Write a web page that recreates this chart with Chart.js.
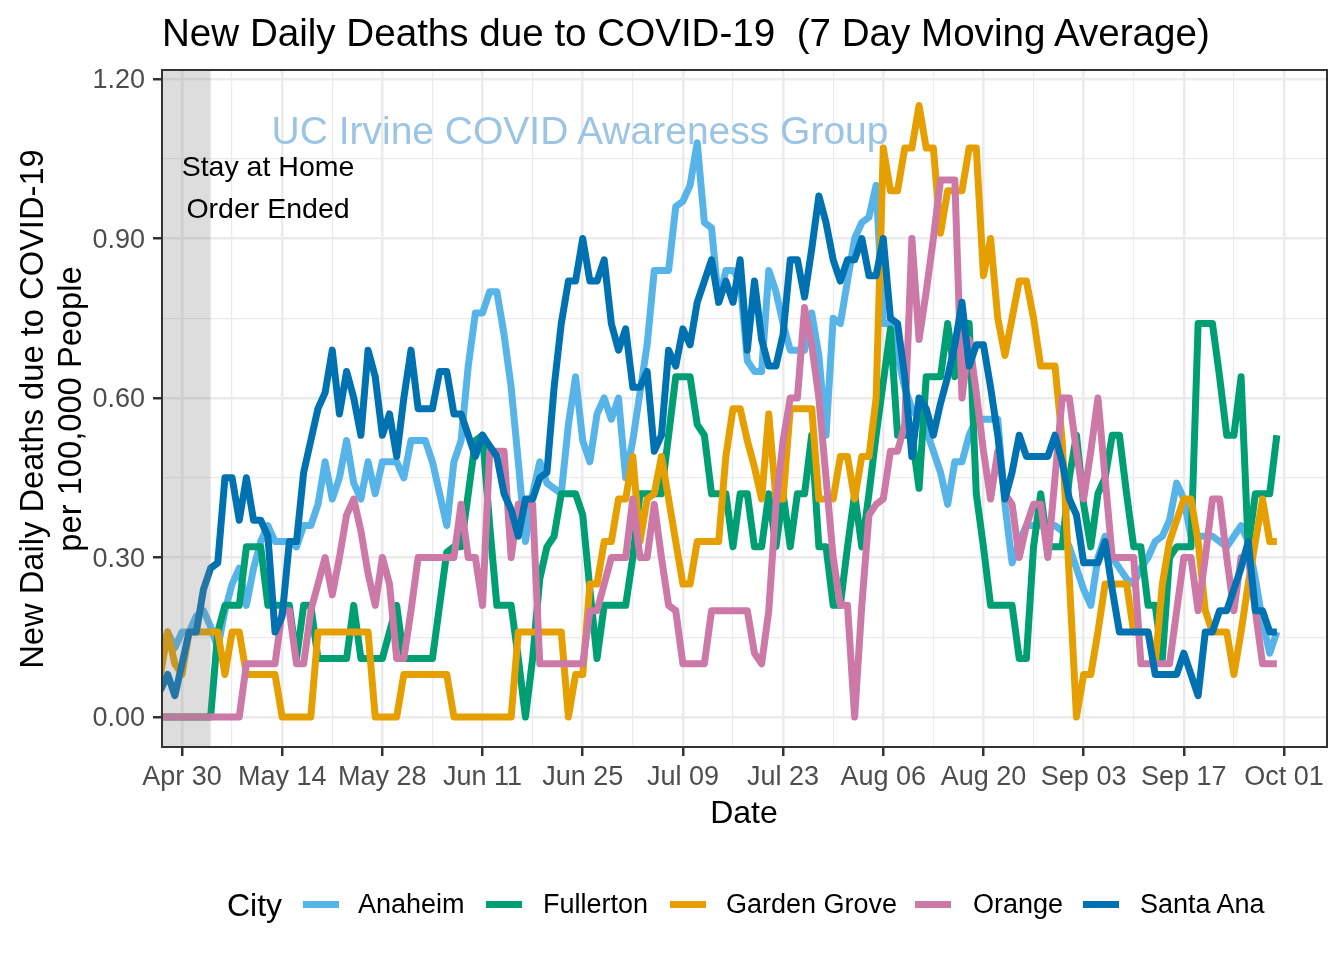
<!DOCTYPE html>
<html>
<head>
<meta charset="utf-8">
<title>New Daily Deaths due to COVID-19</title>
<script src="https://cdn.jsdelivr.net/npm/chart.js@4.4.1/dist/chart.umd.min.js"></script>
<style>
  html, body { margin: 0; padding: 0; background: #fff; }
  #page { position: relative; width: 1344px; height: 960px; overflow: hidden;
          font-family: "Liberation Sans", Arial, sans-serif; }
  #chart { position: absolute; left: 0; top: 0; }
  .txt { position: absolute; white-space: pre; line-height: 1; color: #000; }
  .mid { transform: translateX(-50%); }
  .rot { transform: translate(-50%, -50%) rotate(-90deg); }
  .key { position: absolute; width: 36px; height: 7px; top: 901px; }
</style>
</head>
<body>
<div id="page">
  <canvas id="chart" width="1344" height="960"></canvas>

  <div class="txt" style="left:162px; top:14px; font-size:38.6px;">New Daily Deaths due to COVID-19  (7 Day Moving Average)</div>

  <div class="txt rot" style="left:32px; top:409px; font-size:32.7px;">New Daily Deaths due to COVID-19</div>
  <div class="txt rot" style="left:69.5px; top:409px; font-size:32.7px;">per 100,000 People</div>
  <div class="txt mid" style="left:744px; top:796px; font-size:32px;">Date</div>

  <div class="txt mid" style="left:580px; top:111px; font-size:39px; color:#9cc4e4;">UC Irvine COVID Awareness Group</div>
  <div class="txt mid" style="left:268px; top:152px; font-size:28.5px;">Stay at Home</div>
  <div class="txt mid" style="left:268px; top:194px; font-size:28.5px;">Order Ended</div>

  <div id="legend"></div>
</div>

<script>
/* ---------- data (x = days after Apr 30, first value is Apr 27) ---------- */
const firstDay = -3;

const cityNames  = ['Anaheim', 'Fullerton', 'Garden Grove', 'Orange', 'Santa Ana'];
const cityColors = ['#56B4E9', '#009E73', '#E69F00', '#CC79A7', '#0072B2'];

const anaheim = [
  0.12,0.16,0.13,0.16,0.16,0.19,0.20,0.17,0.13,0.20,
  0.25,0.28,0.21,0.28,0.33,0.36,0.33,0.33,0.33,0.32,
  0.36,0.36,0.40,0.48,0.41,0.45,0.52,0.44,0.41,0.48,
  0.42,0.48,0.48,0.48,0.45,0.52,0.52,0.52,0.48,0.42,
  0.36,0.48,0.52,0.66,0.76,0.76,0.80,0.80,0.72,0.62,
  0.48,0.33,0.42,0.48,0.44,0.43,0.42,0.55,0.64,0.52,
  0.48,0.57,0.60,0.56,0.60,0.45,0.52,0.61,0.70,0.84,
  0.84,0.84,0.96,0.97,1.00,1.08,0.93,0.92,0.78,0.84,
  0.84,0.82,0.67,0.65,0.65,0.84,0.80,0.74,0.69,0.69,
  0.69,0.76,0.68,0.53,0.75,0.74,0.82,0.90,0.93,0.94,
  1.00,0.74,0.74,0.68,0.62,0.58,0.56,0.54,0.50,0.46,
  0.40,0.48,0.48,0.53,0.56,0.56,0.56,0.56,0.40,0.29,
  0.33,0.36,0.36,0.36,0.36,0.36,0.35,0.32,0.28,0.24,
  0.21,0.30,0.34,0.30,0.28,0.26,0.25,0.28,0.30,0.33,
  0.34,0.37,0.44,0.41,0.34,0.34,0.34,0.34,0.33,0.32,
  0.34,0.36,0.33,0.26,0.18,0.12,0.16
];

const fullerton = [
  0,0,0,0,0,0,0,0,0.16,0.21,
  0.21,0.21,0.32,0.32,0.32,0.21,0.21,0.21,0.21,0.11,
  0.21,0.21,0.11,0.11,0.11,0.11,0.11,0.21,0.11,0.11,
  0.11,0.11,0.16,0.21,0.11,0.11,0.11,0.11,0.11,0.21,
  0.31,0.32,0.32,0.42,0.52,0.53,0.36,0.21,0.21,0.21,
  0.11,0.00,0.11,0.26,0.32,0.34,0.42,0.42,0.42,0.38,
  0.24,0.11,0.21,0.21,0.21,0.21,0.30,0.42,0.42,0.42,
  0.42,0.53,0.64,0.64,0.64,0.55,0.53,0.42,0.42,0.42,
  0.32,0.42,0.42,0.32,0.32,0.42,0.32,0.42,0.32,0.42,
  0.42,0.53,0.32,0.32,0.21,0.21,0.32,0.42,0.32,0.42,
  0.53,0.63,0.73,0.53,0.53,0.53,0.43,0.64,0.64,0.64,
  0.74,0.64,0.74,0.74,0.42,0.32,0.21,0.21,0.21,0.21,
  0.11,0.11,0.32,0.42,0.32,0.32,0.32,0.45,0.53,0.40,
  0.32,0.42,0.45,0.53,0.53,0.42,0.32,0.32,0.21,0.21,
  0.11,0.30,0.32,0.32,0.32,0.74,0.74,0.74,0.64,0.53,
  0.53,0.64,0.32,0.42,0.42,0.42,0.53
];

const gardenGrove = [
  0.08,0.16,0.10,0.08,0.16,0.16,0.16,0.16,0.16,0.08,
  0.16,0.16,0.08,0.08,0.08,0.08,0.08,0,0,0,
  0,0,0.16,0.16,0.16,0.16,0.16,0.16,0.16,0.16,
  0,0,0,0,0.08,0.08,0.08,0.08,0.08,0.08,
  0.08,0,0,0,0,0,0,0,0,0,
  0.16,0.16,0.16,0.16,0.16,0.16,0.16,0,0.08,0.08,
  0.25,0.25,0.33,0.33,0.41,0.41,0.49,0.33,0.41,0.42,
  0.49,0.41,0.33,0.25,0.25,0.33,0.33,0.33,0.33,0.49,
  0.58,0.58,0.52,0.47,0.41,0.57,0.41,0.41,0.58,0.58,
  0.58,0.58,0.41,0.41,0.41,0.49,0.49,0.41,0.49,0.49,
  0.60,1.07,0.99,0.99,1.07,1.07,1.15,1.07,1.07,0.91,
  0.99,0.99,0.99,1.07,1.07,0.83,0.90,0.75,0.68,0.75,
  0.82,0.82,0.75,0.66,0.66,0.66,0.52,0.26,0,0.08,
  0.08,0.16,0.25,0.25,0.25,0.25,0.16,0.16,0.16,0.10,
  0.25,0.33,0.37,0.41,0.41,0.33,0.20,0.16,0.16,0.16,
  0.08,0.16,0.25,0.33,0.41,0.33,0.33
];

const orange = [
  0,0,0,0,0,0,0,0,0,0,
  0,0,0.10,0.10,0.10,0.10,0.10,0.20,0.20,0.10,
  0.10,0.20,0.25,0.30,0.23,0.30,0.38,0.41,0.35,0.27,
  0.21,0.30,0.25,0.11,0.11,0.20,0.30,0.30,0.30,0.30,
  0.30,0.30,0.40,0.30,0.30,0.21,0.50,0.50,0.50,0.30,
  0.40,0.40,0.40,0.10,0.10,0.10,0.10,0.10,0.10,0.10,
  0.20,0.20,0.25,0.30,0.30,0.30,0.41,0.30,0.30,0.40,
  0.30,0.21,0.20,0.10,0.10,0.10,0.10,0.20,0.20,0.20,
  0.20,0.20,0.20,0.12,0.10,0.20,0.40,0.52,0.60,0.60,
  0.77,0.70,0.60,0.45,0.30,0.21,0.21,0.00,0.21,0.38,
  0.40,0.41,0.50,0.50,0.55,0.90,0.71,0.80,0.90,1.01,
  1.01,1.01,0.60,0.71,0.61,0.50,0.41,0.50,0.42,0.40,
  0.30,0.36,0.40,0.40,0.30,0.45,0.60,0.60,0.50,0.41,
  0.50,0.60,0.45,0.30,0.30,0.30,0.30,0.10,0.10,0.10,
  0.10,0.10,0.20,0.30,0.30,0.20,0.30,0.41,0.41,0.30,
  0.20,0.30,0.30,0.20,0.10,0.10,0.10
];

const santaAna = [
  0.05,0.08,0.04,0.10,0.16,0.16,0.24,0.28,0.29,0.45,
  0.45,0.37,0.45,0.37,0.37,0.34,0.16,0.19,0.33,0.33,
  0.46,0.52,0.58,0.61,0.69,0.57,0.65,0.60,0.53,0.69,
  0.64,0.53,0.57,0.49,0.60,0.69,0.58,0.58,0.58,0.65,
  0.65,0.57,0.57,0.53,0.49,0.53,0.51,0.49,0.42,0.39,
  0.34,0.41,0.41,0.45,0.46,0.62,0.74,0.82,0.82,0.90,
  0.82,0.82,0.86,0.74,0.69,0.73,0.62,0.62,0.65,0.50,
  0.53,0.69,0.66,0.73,0.70,0.78,0.82,0.86,0.78,0.82,
  0.78,0.86,0.69,0.82,0.71,0.66,0.66,0.72,0.86,0.86,
  0.79,0.88,0.98,0.93,0.86,0.82,0.86,0.86,0.90,0.83,
  0.83,0.90,0.75,0.74,0.64,0.49,0.60,0.58,0.53,0.59,
  0.64,0.70,0.78,0.66,0.70,0.70,0.62,0.53,0.41,0.46,
  0.53,0.49,0.49,0.49,0.49,0.53,0.48,0.41,0.38,0.29,
  0.29,0.29,0.33,0.24,0.16,0.16,0.16,0.16,0.16,0.08,
  0.08,0.08,0.08,0.12,0.08,0.04,0.16,0.16,0.20,0.20,
  0.24,0.28,0.33,0.20,0.20,0.16,0.16
];

const cityValues = [anaheim, fullerton, gardenGrove, orange, santaAna];

const xTickDays   = [0, 14, 28, 42, 56, 70, 84, 98, 112, 126, 140, 154];
const xTickLabels = ['Apr 30', 'May 14', 'May 28', 'Jun 11', 'Jun 25', 'Jul 09',
                     'Jul 23', 'Aug 06', 'Aug 20', 'Sep 03', 'Sep 17', 'Oct 01'];
const xMinorDays  = [7, 21, 35, 49, 63, 77, 91, 105, 119, 133, 147];
const yTickValues = [0, 0.3, 0.6, 0.9, 1.2];
const yMinorValues = [0.15, 0.45, 0.75, 1.05];

const stayHomeStart = -3;   // Apr 27
const stayHomeEnd   = 4;    // May 4

/* ---------- axis limits (ggplot expansion) ---------- */
const xMin = -2.795, xMax = 160.01;
const yMin = -0.0564, yMax = 1.2169;

const near = (list, v) => list.some(t => Math.abs(t - v) < 1e-6);

/* ---------- legend (html) ---------- */
const legendPos = [
  { key: 303, text: 358 },
  { key: 486, text: 543 },
  { key: 670, text: 726 },
  { key: 915, text: 973 },
  { key: 1083, text: 1140 }
];
(function buildLegend() {
  const box = document.getElementById('legend');
  let html = '<div class="txt" style="left:227px; top:889px; font-size:32px;">City</div>';
  cityNames.forEach((name, i) => {
    html += `<div class="key" style="left:${legendPos[i].key}px; background:${cityColors[i]};"></div>`;
    html += `<div class="txt" style="left:${legendPos[i].text}px; top:891px; font-size:27px;">${name}</div>`;
  });
  box.innerHTML = html;
})();

/* ---------- chart ---------- */
Chart.defaults.font.family = '"Liberation Sans", Arial, sans-serif';

const panelPlugin = {
  id: 'panel',
  afterDatasetsDraw(chart) {
    const { ctx, chartArea: a, scales: { x } } = chart;
    const x0 = Math.max(x.getPixelForValue(stayHomeStart), a.left);
    const x1 = Math.min(x.getPixelForValue(stayHomeEnd), a.right);
    ctx.save();
    ctx.fillStyle = 'rgba(128,128,128,0.27)';
    ctx.fillRect(x0, a.top, x1 - x0, a.bottom - a.top);
    ctx.restore();
  },
  afterDraw(chart) {
    const { ctx, chartArea: a } = chart;
    ctx.save();
    ctx.strokeStyle = '#333333';
    ctx.lineWidth = 2;
    ctx.strokeRect(a.left, a.top, a.right - a.left, a.bottom - a.top);
    ctx.restore();
  }
};

const datasets = cityNames.map((name, i) => ({
  label: name,
  data: cityValues[i].map((v, k) => ({ x: firstDay + k, y: v })),
  borderColor: cityColors[i],
  backgroundColor: cityColors[i],
  borderWidth: 7,
  borderJoinStyle: 'round',
  pointRadius: 0,
  tension: 0,
  fill: false,
  order: cityNames.length - 1 - i   // Santa Ana drawn on top
}));

new Chart(document.getElementById('chart'), {
  type: 'line',
  data: { datasets },
  plugins: [panelPlugin],
  options: {
    responsive: false,
    animation: false,
    devicePixelRatio: 1,
    layout: { padding: { left: 0, top: 70, right: 17, bottom: 153 }, autoPadding: false },
    plugins: { legend: { display: false }, tooltip: { enabled: false }, title: { display: false } },
    scales: {
      x: {
        type: 'linear',
        min: xMin,
        max: xMax,
        afterBuildTicks: s => {
          s.ticks = [...xTickDays, ...xMinorDays].sort((a, b) => a - b).map(v => ({ value: v }));
        },
        afterFit: s => { s.height = 60; },
        ticks: {
          autoSkip: false, maxRotation: 0, minRotation: 0, padding: 5,
          color: '#4D4D4D', font: { size: 27 },
          callback: v => { const i = xTickDays.indexOf(v); return i >= 0 ? xTickLabels[i] : ''; }
        },
        grid: {
          color: '#EBEBEB',
          lineWidth: c => (c.tick && near(xTickDays, c.tick.value)) ? 2.5 : 1.2,
          tickLength: 9,
          tickWidth: 2.5,
          tickColor: c => (c.tick && near(xTickDays, c.tick.value)) ? '#333333' : 'rgba(0,0,0,0)'
        },
        border: { display: false }
      },
      y: {
        type: 'linear',
        min: yMin,
        max: yMax,
        afterBuildTicks: s => {
          s.ticks = [...yTickValues, ...yMinorValues].sort((a, b) => a - b).map(v => ({ value: v }));
        },
        afterFit: s => { s.width = 162; },
        ticks: {
          autoSkip: false, padding: 8, labelOffset: 2,
          color: '#4D4D4D', font: { size: 27 },
          callback: v => near(yTickValues, v) ? v.toFixed(2) : ''
        },
        grid: {
          color: '#EBEBEB',
          lineWidth: c => (c.tick && near(yTickValues, c.tick.value)) ? 2.5 : 1.2,
          tickLength: 9,
          tickWidth: 2.5,
          tickColor: c => (c.tick && near(yTickValues, c.tick.value)) ? '#333333' : 'rgba(0,0,0,0)'
        },
        border: { display: false }
      }
    }
  }
});
</script>
</body>
</html>
